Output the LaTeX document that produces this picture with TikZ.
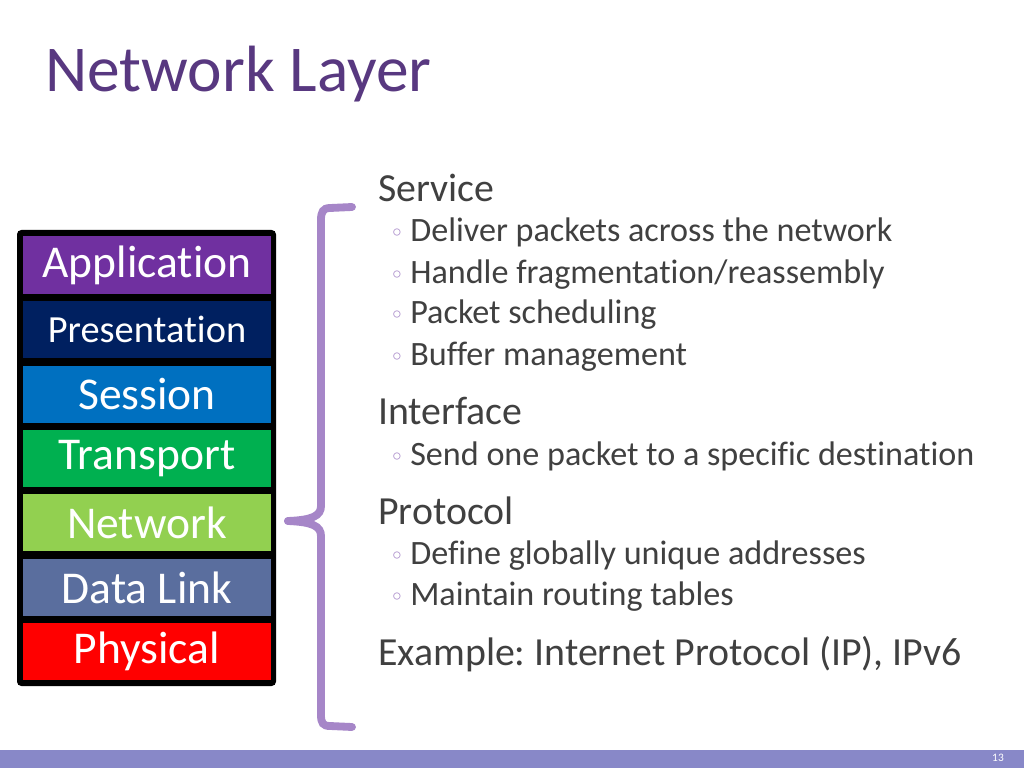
\documentclass[tikz,border=0pt]{standalone}
\usepackage{fontspec}
\setmainfont{Carlito}[RawFeature=-liga]
\newfontfamily\bulletfont{DejaVu Sans}
\usepackage{tikz}
\frenchspacing
\definecolor{titlePurple}{RGB}{88, 56, 128}
\definecolor{textGray}{RGB}{64, 64, 64}
\definecolor{bracePurple}{RGB}{166, 134, 200}
\definecolor{barLavender}{RGB}{136, 136, 200}
\definecolor{appViolet}{RGB}{112, 48, 160}
\definecolor{presNavy}{RGB}{0, 32, 96}
\definecolor{sessBlue}{RGB}{0, 112, 192}
\definecolor{transGreen}{RGB}{0, 176, 80}
\definecolor{netGreen}{RGB}{146, 208, 80}
\definecolor{linkSlate}{RGB}{90, 110, 158}
\definecolor{physRed}{RGB}{255, 0, 0}
\tikzset{
  layer/.style = {minimum width = 174.4pt, minimum height = 40.1pt, inner sep = 0pt,
                  text = white, font = \fontsize{32}{34}\selectfont},
  head/.style = {anchor = base west, inner sep = 0pt, text = textGray,
                 font = \fontsize{28}{30}\selectfont},
  item/.style = {anchor = base west, inner sep = 0pt, text = textGray,
                 font = \fontsize{24}{26}\selectfont},
  dot/.style = {anchor = base, inner sep = 0pt, text = bracePurple,
                font = \bulletfont\fontsize{17}{18}\selectfont}
}
\begin{document}
\begin{tikzpicture}[x = 0.703125pt, y = -0.703125pt]
            \useasboundingbox (0,0) rectangle (1024,768);
            \fill[white] (0,0) rectangle (1024,768);

            % title
            \node[anchor = base west, inner sep = 0pt, text = titlePurple,
                  font = \fontsize{46}{48}\selectfont] (title) at (45, 92) {Network Layer};

            % layer stack
            \fill[black, rounded corners = 3] (17,230) rectangle (276,686);
            \node[layer, fill = appViolet] (application) at (147, 265) {Application};
            \node[layer, fill = presNavy, font = \fontsize{27}{29}\selectfont] (presentation) at (147, 329.5) {Presentation};
            \node[layer, fill = sessBlue] (session) at (147, 394.5) {Session};
            \node[layer, fill = transGreen] (transport) at (147, 458.5) {Transport};
            \node[layer, fill = netGreen] (network) at (147, 522.5) {Network};
            \node[layer, fill = linkSlate] (datalink) at (147, 587.5) {Data Link};
            \node[layer, fill = physRed] (physical) at (147, 651.5) {Physical};

            % brace
            \coordinate (tip) at (288, 521);
            \draw[bracePurple, line width = 5.5pt, line cap = round]
                (352, 207) -- (330, 208) .. controls (323, 208) and (321, 212) .. (321, 220)
                -- (321, 506) .. controls (321, 516) and (312, 520) .. (tip);
            \draw[bracePurple, line width = 5.5pt, line cap = round]
                (tip) .. controls (312, 522) and (321, 526) .. (321, 536)
                -- (321, 715) .. controls (321, 723) and (323, 726) .. (330, 726) -- (352, 727);

            % service
            \node[head] (service) at (378, 202) {Service};
            \node[dot] (d1) at (397, 242) {◦};
            \node[item] (deliver) at (410, 242) {Deliver packets across the network};
            \node[dot] (d2) at (397, 283) {◦};
            \node[item] (handle) at (410, 283) {Handle fragmentation/reassembly};
            \node[dot] (d3) at (397, 324) {◦};
            \node[item] (sched) at (410, 324) {Packet scheduling};
            \node[dot] (d4) at (397, 365) {◦};
            \node[item] (buffer) at (410, 365) {Buffer management};

            % interface
            \node[head] (interface) at (378, 424) {Interface};
            \node[dot] (d5) at (397, 465) {◦};
            \node[item] (send) at (410, 465) {Send one packet to a specific destination};

            % protocol
            \node[head] (protocol) at (378, 524) {Protocol};
            \node[dot] (d6) at (397, 564) {◦};
            \node[item] (define) at (410, 564) {Define globally unique addresses};
            \node[dot] (d7) at (397, 605) {◦};
            \node[item] (maintain) at (410, 605) {Maintain routing tables};

            \node[head] (example) at (378, 665) {Example: Internet Protocol (IP), IPv6};

            % footer
            \fill[barLavender] (0,750) rectangle (1024,768);
            \node[text = white, inner sep = 0pt, font = \fontsize{8}{9}\selectfont] (pagenum) at (998, 758) {13};
\end{tikzpicture}
\end{document}
